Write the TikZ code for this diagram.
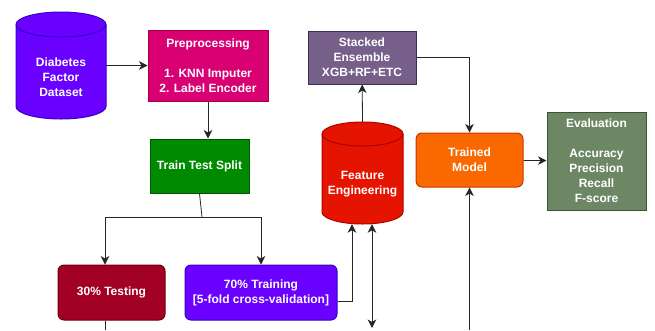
\documentclass[tikz,border=0pt]{standalone}
\usepackage{fontspec}
\setmainfont{Liberation Sans}
\usetikzlibrary{arrows.meta}

\definecolor{dataFill}{HTML}{6A00FF}
\definecolor{dataLine}{HTML}{3700CC}
\definecolor{prepFill}{HTML}{D80073}
\definecolor{prepLine}{HTML}{A50040}
\definecolor{splitFill}{HTML}{008A00}
\definecolor{splitLine}{HTML}{005700}
\definecolor{testFill}{HTML}{A20025}
\definecolor{testLine}{HTML}{6F0000}
\definecolor{featFill}{HTML}{E51400}
\definecolor{featLine}{HTML}{B20000}
\definecolor{stackFill}{HTML}{76608A}
\definecolor{stackLine}{HTML}{432D57}
\definecolor{modelFill}{HTML}{FA6800}
\definecolor{modelLine}{HTML}{C73500}
\definecolor{evalFill}{HTML}{6D8764}
\definecolor{evalLine}{HTML}{3A5431}

\tikzset{
	txt/.style={text=white, font=\bfseries\fontsize{12}{15}\selectfont, align=center},
	box/.style={txt, draw, line width=1pt, inner sep=0pt},
	hole/.style={inner sep=0pt},
	tip/.tip={Stealth[length=8.5pt,width=8.5pt,inset=2.5pt]},
	arr/.style={-tip, line width=.8pt, draw=black!85},
	ln/.style={line width=.8pt, draw=black!85}
}

\begin{document}
\begin{tikzpicture}[x=1pt, y=-1pt]
		\useasboundingbox (0,0) rectangle (655,330);
		% cylinders
		\filldraw [fill=dataFill, draw=dataLine, line width=1pt] (16,24.5) -- (16,106.5) arc [start angle=180, end angle=0, x radius=45, y radius=12.5] -- (106,24.5) arc [start angle=0, end angle=-180, x radius=45, y radius=12.5] -- cycle;
		\draw [dataLine, line width=1pt] (16,24.5) arc [start angle=180, end angle=0, x radius=45, y radius=12.5];
		\filldraw [fill=featFill, draw=featLine, line width=1pt] (322,134) -- (322,212) arc [start angle=180, end angle=0, x radius=40.5, y radius=12] -- (403,134) arc [start angle=0, end angle=-180, x radius=40.5, y radius=12] -- cycle;
		\draw [featLine, line width=1pt] (322,134) arc [start angle=180, end angle=0, x radius=40.5, y radius=12];
		\node [hole, minimum width=90pt, minimum height=107pt] (data) at (61,65.5) {};
		\node [txt] (dataText) at (61,77) {Diabetes\\Factor\\Dataset};
		\node [hole, minimum width=81pt, minimum height=102pt] (feat) at (362.5,173) {};
		\node [txt] (featText) at (362.5,184.5) {Feature\\Engineering};
		% boxes
		\node [box, fill=prepFill, draw=prepLine, minimum width=120pt, minimum height=71pt] (prep) at (208,65.5) {Preprocessing\\[15pt]1. KNN Imputer\\2. Label Encoder};
		\node [box, fill=splitFill, draw=splitLine, minimum width=99pt, minimum height=54pt] (split) at (199.5,166) {Train Test Split};
		\node [box, rounded corners=6pt, fill=testFill, draw=testLine, minimum width=107pt, minimum height=55pt] (test) at (111.5,292.5) {30\% Testing};
		\node [box, rounded corners=6pt, fill=dataFill, draw=dataLine, minimum width=152pt, minimum height=55pt] (train) at (261,292.5) {70\% Training\\{[5-fold cross-validation]}};
		\node [box, fill=stackFill, draw=stackLine, minimum width=108pt, minimum height=53pt] (stack) at (362,57.5) {Stacked\\Ensemble\\XGB+RF+ETC};
		\node [box, rounded corners=6pt, fill=modelFill, draw=modelLine, minimum width=107pt, minimum height=54pt] (model) at (469.5,160) {Trained\\Model};
		\node [box, fill=evalFill, draw=evalLine, minimum width=99pt, minimum height=98pt] (eval) at (596.5,161) {Evaluation\\[15pt]Accuracy\\Precision\\Recall\\F-score};
		% free ends
		\coordinate (fork) at (202,217);
		\coordinate (testEnd) at (105,330);
		\coordinate (featEnd) at (372,328);
		\coordinate (modelIn) at (469.5,330);
		% connectors
		\draw [arr] (data) -- (prep);
		\draw [arr] (prep) -- (prep |- split.north);
		\draw [ln]  (split.south) -- (fork);
		\draw [arr] (fork) -| (105,0 |- test.north);
		\draw [arr] (fork) -| (train.north);
		\draw [ln]  (105,0 |- test.south) -- (testEnd);
		\draw [arr] (train.east |- 0,301) -| (352,0 |- feat.south);
		\draw [arr, tip-tip] (372,0 |- feat.south) -- (featEnd);
		\draw [arr] (feat.north) -- (stack);
		\draw [arr] (stack.east) -| (model.north);
		\draw [arr] (model) -- (eval);
		\draw [arr] (modelIn) -- (model.south);
	\end{tikzpicture}
\end{document}
